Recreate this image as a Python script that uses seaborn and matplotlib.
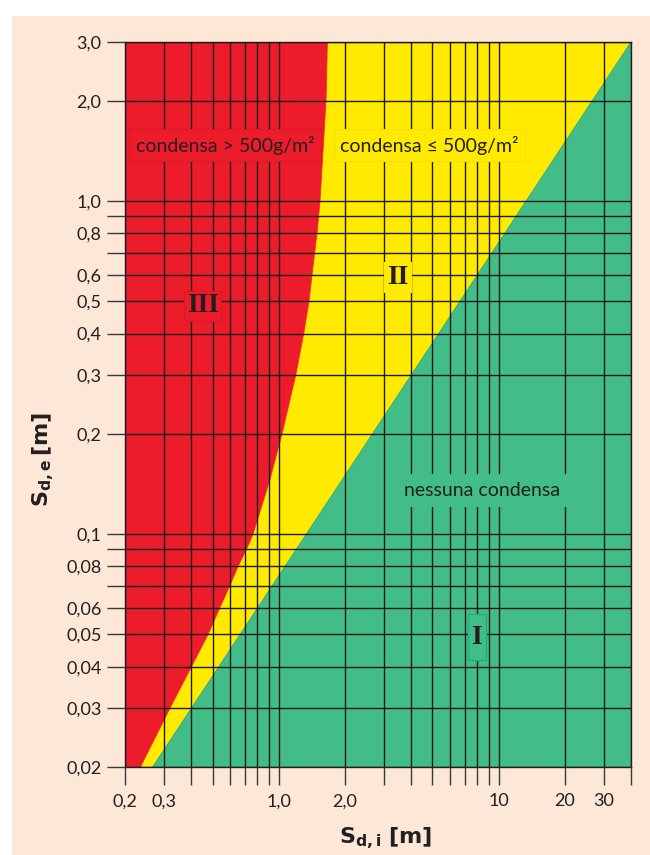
import matplotlib
matplotlib.use("Agg")
import matplotlib.pyplot as plt
import seaborn as sns
import pandas as pd
from matplotlib.patches import Rectangle
from matplotlib.ticker import NullLocator

# Axis ranges (Sd,i horizontal, Sd,e vertical, both in metres)
x_min, x_max = 0.2, 40.0
y_min, y_max = 0.02, 3.0

# Boundary between region III (condensa > 500 g/m2) and region II
curve_y = [0.02, 0.03, 0.04, 0.05, 0.06, 0.07, 0.08, 0.09, 0.1, 0.145,
           0.2, 0.3, 0.4, 0.5, 0.6, 0.8, 1.0, 2.0, 3.0]
curve_x = [0.235, 0.320, 0.401, 0.477, 0.539, 0.599, 0.653, 0.713, 0.764, 0.910,
           1.035, 1.195, 1.299, 1.373, 1.417, 1.493, 1.541, 1.641, 1.665]

# Boundary between region II and region I (nessuna condensa)
line_x = [0.267, 40.0]
line_y = [0.02, 3.0]

# Grid / tick positions and labels
x_grid = [0.2, 0.3, 0.4, 0.5, 0.6, 0.7, 0.8, 0.9, 1, 2, 3, 4, 5, 6, 7, 8, 9, 10, 20, 30, 40]
x_labels = ["0,2", "0,3", "", "", "", "", "", "", "1,0", "2,0", "", "", "", "", "", "", "",
            "10", "20", "30", ""]
y_grid = [0.02, 0.03, 0.04, 0.05, 0.06, 0.07, 0.08, 0.09, 0.1,
          0.2, 0.3, 0.4, 0.5, 0.6, 0.7, 0.8, 0.9, 1.0, 2.0, 3.0]
y_labels = ["0,02", "0,03", "0,04", "0,05", "0,06", "", "0,08", "", "0,1",
            "0,2", "0,3", "0,4", "0,5", "0,6", "", "0,8", "", "1,0", "2,0", "3,0"]

RED = "#ED1C2B"
YELLOW = "#FFEA00"
GREEN = "#43BD87"
PEACH = "#FDE7D6"
INK = "#231F20"

sns.set_theme(style="ticks")
plt.rcParams["font.family"] = ["Lato", "DejaVu Sans"]
plt.rcParams["mathtext.fontset"] = "dejavusans"

fig = plt.figure(figsize=(6.5, 8.55), dpi=100, facecolor="white")
fig.patches.append(Rectangle((12 / 650, 0), 1, 1 - 16 / 855, transform=fig.transFigure,
                             facecolor=PEACH, edgecolor="none", zorder=-10))

ax = fig.add_axes([125 / 650, 1 - 767 / 855, (631 - 125) / 650, (767 - 42) / 855])
ax.set_facecolor("none")
ax.set_xscale("log")
ax.set_yscale("log")
ax.set_xlim(x_min, x_max)
ax.set_ylim(y_min, y_max)

# Regions
red_x = [x_min] + curve_x + [x_min]
red_y = [y_min] + curve_y + [y_max]
ax.fill(red_x, red_y, color=RED, lw=0, zorder=1)

yel_x = curve_x + [line_x[1], line_x[0]]
yel_y = curve_y + [line_y[1], line_y[0]]
ax.fill(yel_x, yel_y, color=YELLOW, lw=0, zorder=1)

grn_x = [line_x[0], line_x[1], x_max]
grn_y = [line_y[0], line_y[1], y_min]
ax.fill(grn_x, grn_y, color=GREEN, lw=0, zorder=1)

# Region edges
sns.lineplot(data=pd.DataFrame({"x": curve_x, "y": curve_y}), x="x", y="y",
             sort=False, estimator=None, color=RED, lw=0.6, ax=ax, zorder=1.5)
sns.lineplot(data=pd.DataFrame({"x": line_x, "y": line_y}), x="x", y="y",
             sort=False, estimator=None, color="#2FA878", lw=0.6, ax=ax, zorder=1.5)

# Ticks and grid
ax.set_xticks(x_grid)
ax.set_xticklabels(x_labels)
ax.set_yticks(y_grid)
ax.set_yticklabels(y_labels)
ax.xaxis.set_minor_locator(NullLocator())
ax.yaxis.set_minor_locator(NullLocator())
ax.set_axisbelow(False)
ax.grid(True, which="major", color="#1a1a1a", lw=1.0)
ax.tick_params(axis="both", which="major", length=13, width=1.0, color="#3a3a3a",
               labelsize=13, labelcolor=INK, pad=4)
ax.tick_params(axis="x", pad=6)
for s in ax.spines.values():
    s.set_color(INK)
    s.set_linewidth(1.0)
ax.set_xlabel("")
ax.set_ylabel("")

# Region labels
txt = dict(fontsize=14, color=INK, ha="center", va="center", zorder=5)
ax.text(0.57, 1.47, "condensa > 500g/m²",
        bbox=dict(boxstyle="square,pad=0.33", fc=RED, ec="#D81A28", lw=0.8), **txt)
ax.text(4.86, 1.47, "condensa ≤ 500g/m²",
        bbox=dict(boxstyle="square,pad=0.33", fc=YELLOW, ec="#F5E000", lw=0.8), **txt)
ax.text(8.37, 0.1355, "nessuna condensa",
        bbox=dict(boxstyle="square,pad=0.4", fc=GREEN, ec=GREEN, lw=0.8), **txt)

roman = dict(fontsize=20, color=INK, ha="center", va="center", zorder=5,
             family="Liberation Serif", weight="bold")
ax.text(0.451, 0.484, "III",
        bbox=dict(boxstyle="square,pad=0.1", fc=RED, ec="#D81A28", lw=0.8), **roman)
ax.text(3.47, 0.591, "II",
        bbox=dict(boxstyle="square,pad=0.1", fc=YELLOW, ec=YELLOW, lw=0.8), **roman)
# tall framed box behind the "I" label
ax.add_patch(Rectangle((7.23, 0.0418), 8.73 - 7.23, 0.0575 - 0.0418,
                       facecolor=GREEN, edgecolor="#1AAE8C", lw=1.0, zorder=4))
ax.text(7.94, 0.049, "I", **roman)

# Axis titles
fig.text(43 / 650, 1 - 460 / 855, r"$\mathbf{S_{d,e}\,[m]}$", rotation=90,
         fontsize=16, color=INK, ha="center", va="center")
fig.text(386 / 650, 1 - 838 / 855, r"$\mathbf{S_{d,i}\ [m]}$",
         fontsize=16, color=INK, ha="center", va="center")

fig.savefig("out.png", dpi=100, facecolor="white")
